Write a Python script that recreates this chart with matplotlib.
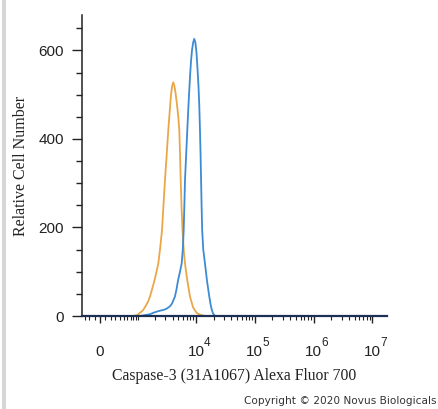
import numpy as np
import matplotlib
matplotlib.use("Agg")
import matplotlib.pyplot as plt
from matplotlib.patches import Rectangle

# ---- data ----
orange_x = [-350, 800, 941, 1069, 1213, 1318, 1493, 1620, 1829, 1983, 2149, 2265, 2423,
            2626, 2783, 2956, 3163, 3368, 3600, 3745, 3928, 4101, 4282, 4470, 4745,
            4992, 5193, 5338, 5489, 5662, 5889, 6174, 6497, 7024, 7907, 8887, 10280,
            11694, 14215, 1.8e7]
orange_y = [0, 0, 2, 7, 13, 20, 32, 44, 68, 85, 105, 119, 150,
            194, 250, 307, 365, 420, 470, 500, 520, 528, 520, 505, 478,
            450, 420, 370, 307, 250, 194, 150, 119, 85, 44, 20, 7,
            3, 0, 0]

blue_x = [-350, 1069, 1318, 1620, 1829, 2149, 2423, 2841, 3196, 3600, 3896, 4381, 4652,
          4936, 5338, 5706, 5960, 6174, 6340, 6497, 6808, 7108, 7508, 7907, 8224, 8550,
          8961, 9354, 9765, 10195, 10602, 11025, 11380, 11694, 11968, 12208, 12455,
          12745, 13302, 14215, 15384, 16830, 17787, 18493, 19450, 21035, 1.8e7]
blue_y = [0, 0, 2, 4, 7, 10, 12, 14, 17, 22, 28, 44, 60,
          80, 100, 119, 150, 194, 250, 307, 365, 420, 485, 540, 575, 600,
          618, 626, 618, 595, 560, 520, 475, 420, 365, 307, 250,
          194, 150, 119, 80, 44, 25, 15, 6, 0, 0]

ytick_vals = [0, 200, 400, 600]
xtick_vals = [0, 1e4, 1e5, 1e6, 1e7]
xtick_labels = ['0', '10', '10', '10', '10']
xtick_exps = ['', '4', '5', '6', '7']
xlabel = 'Caspase-3 (31A1067) Alexa Fluor 700'
ylabel = 'Relative Cell Number'
copyright_text = 'Copyright \u00a9 2020 Novus Biologicals'

C = 467.0
fwd = lambda x: np.arcsinh(np.asarray(x, dtype=float) / C)
inv = lambda y: C * np.sinh(np.asarray(y, dtype=float))

fig = plt.figure(figsize=(4.38, 4.09), dpi=100)
fig.add_artist(Rectangle((2 / 438, 0), 4 / 438, 1, transform=fig.transFigure,
                         color='#d6d6d6', lw=0))
ax = fig.add_axes([82 / 438, 1 - 316 / 409, (387 - 82) / 438, (316 - 15) / 409])

ax.plot(orange_x, orange_y, color='#EBA648', lw=1.3, zorder=2)
ax.plot(blue_x, blue_y, color='#3D8BD2', lw=1.3, zorder=3)

ax.set_xscale('function', functions=(fwd, inv))
ax.set_xlim(-357, 1.77e7)
ax.set_ylim(0, 680)

for s in ['top', 'right']:
    ax.spines[s].set_visible(False)
ax.spines['left'].set_color('#222222')
ax.spines['bottom'].set_color('#1d2f55')
ax.spines['left'].set_linewidth(1.1)
ax.spines['bottom'].set_linewidth(1.6)
ax.spines['bottom'].set_zorder(4)

ax.set_yticks(ytick_vals)
ax.set_yticks(np.arange(50, 680, 50), minor=True)
minor_x = [-300, -200, -100, 100, 200, 300, 400, 500, 600, 700, 800, 900, 1000]
for e in [3, 4, 5, 6]:
    for m in range(2, 10):
        minor_x.append(m * 10 ** e)
ax.set_xticks(xtick_vals)
ax.set_xticklabels(xtick_labels)
ax.set_xticks(minor_x, minor=True)

ax.tick_params(axis='y', which='major', length=7, width=1, pad=6, labelsize=11,
               colors='#222222')
ax.tick_params(axis='y', which='minor', length=4, width=1, colors='#222222')
ax.tick_params(axis='x', which='major', length=5, width=1, pad=16, labelsize=11,
               colors='#222222')
ax.tick_params(axis='x', which='minor', length=3, width=0.8, colors='#222222')
for lab in ax.get_xticklabels() + ax.get_yticklabels():
    lab.set_family('Liberation Sans')

for v, ex in zip(xtick_vals, xtick_exps):
    if ex:
        ax.annotate(ex, xy=(v, 0), xycoords=('data', 'axes fraction'),
                    xytext=(7.5, -20.5), textcoords='offset pixels',
                    ha='left', va='top', fontsize=8.5, family='Liberation Sans',
                    color='#222222', annotation_clip=False)

ax.set_xlabel(xlabel, family='Liberation Serif', fontsize=11.3, color='#222222', labelpad=6)
ax.set_ylabel(ylabel, family='Liberation Serif', fontsize=11.5, color='#222222', labelpad=7)

fig.text(437 / 438, 1 - 401 / 409, copyright_text, family='DejaVu Sans', fontsize=7.6,
         color='#333333', va='center', ha='right')

fig.savefig('out.png', dpi=100)
